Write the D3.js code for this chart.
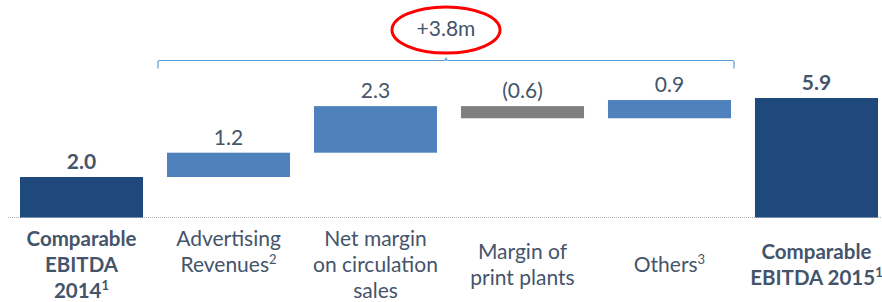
<!DOCTYPE html>
<html lang="en">
<head>
<meta charset="utf-8">
<title>EBITDA bridge</title>
<script src="https://cdn.jsdelivr.net/npm/d3@7"></script>
<style>
  body { margin: 0; background: #fff; }
  text { font-family: Lato, "Open Sans", sans-serif; }
</style>
</head>
<body>
<script>
// data
var categories = ["c2014", "adv", "circ", "print", "others", "c2015"];
var values = [2.0, 1.2, 2.3, -0.6, 0.9, 5.9];
var kinds = ["total", "delta", "delta", "delta", "delta", "total"];
var valueLabels = ["2.0", "1.2", "2.3", "(0.6)", "0.9", "5.9"];
// label lines: [text, superscript]
var catLabels = [
  [["Comparable", ""], ["EBITDA", ""], ["2014", "1"]],
  [["Advertising", ""], ["Revenues", "2"], ["", ""]],
  [["Net margin", ""], ["on circulation", ""], ["sales", ""]],
  [["Margin of", ""], ["print plants", ""]],
  [["Others", "3"]],
  [["Comparable", ""], ["EBITDA 2015", "1"]]
];
var totalChange = "+3.8m";

var width = 882, height = 302;
var baseY = 217.5;
var textCol = "#44546a";
var colors = { total: "#1f497d", up: "#4f81bd", down: "#7f7f7f" };

var svg = d3.select("body").append("svg")
    .attr("width", width)
    .attr("height", height);

var x = d3.scaleBand()
    .domain(categories)
    .range([20, 878])
    .paddingInner(0.163)
    .paddingOuter(0);

var y = d3.scaleLinear()
    .domain([0, 7])
    .range([baseY, baseY - 141.75]);

// waterfall start/end
var running = 0;
var bars = categories.map(function(c, i) {
    var s, e;
    if (kinds[i] == "total") { s = 0; e = values[i]; running = values[i]; }
    else { s = running; e = running + values[i]; running = e; }
    return { cat: c, start: s, end: e, v: values[i], kind: kinds[i], label: valueLabels[i], i: i };
});

// baseline
svg.append("line")
    .attr("x1", 8).attr("x2", width)
    .attr("y1", y(0)).attr("y2", y(0))
    .attr("stroke", "#b0b0b0")
    .attr("stroke-width", 1)
    .attr("stroke-dasharray", "1,1");

svg.selectAll("rect.bar")
    .data(bars)
    .enter()
    .append("rect")
    .attr("class", "bar")
    .attr("x", function(d) { return x(d.cat); })
    .attr("width", x.bandwidth())
    .attr("y", function(d) { return y(Math.max(d.start, d.end)); })
    .attr("height", function(d) { return Math.abs(y(d.start) - y(d.end)); })
    .attr("fill", function(d) {
        if (d.kind == "total") return colors.total;
        return d.v < 0 ? colors.down : colors.up;
    });

svg.selectAll("text.val")
    .data(bars)
    .enter()
    .append("text")
    .attr("class", "val")
    .attr("x", function(d) { return x(d.cat) + x.bandwidth() / 2; })
    .attr("y", function(d) { return y(Math.max(d.start, d.end)) - 8; })
    .attr("text-anchor", "middle")
    .attr("font-size", "21px")
    .attr("font-weight", function(d) { return d.kind == "total" ? "bold" : "normal"; })
    .attr("fill", textCol)
    .text(function(d) { return d.label; });

// category labels
var lineH = 26, midY = 272;
catLabels.forEach(function(lines, i) {
    var cx = x(categories[i]) + x.bandwidth() / 2;
    var y0 = midY - (lines.length - 1) * lineH / 2;
    var bold = kinds[i] == "total";
    var t = svg.append("text")
        .attr("text-anchor", "middle")
        .attr("font-size", bold ? "20.5px" : "21px")
        .attr("font-weight", bold ? "bold" : "normal")
        .attr("fill", textCol);
    lines.forEach(function(ln, j) {
        var row = t.append("tspan").attr("x", cx).attr("y", y0 + j * lineH);
        row.append("tspan").text(ln[0]);
        if (ln[1]) {
            row.append("tspan")
                .attr("font-size", "13px")
                .attr("dy", -8)
                .text(ln[1]);
        }
    });
});

// bracket over the deltas
var bx1 = x(categories[1]) - 9, bx2 = x(categories[4]) + x.bandwidth() + 3;
var by = 60.5, bmid = (bx1 + bx2) / 2;
svg.append("path")
    .attr("d", "M" + bx1 + "," + (by + 8) + " L" + bx1 + "," + (by + 2) +
        " Q" + bx1 + "," + by + " " + (bx1 + 2) + "," + by +
        " L" + (bmid - 2) + "," + by + " Q" + bmid + "," + by + " " + bmid + "," + (by - 3) +
        " Q" + bmid + "," + by + " " + (bmid + 2) + "," + by +
        " L" + (bx2 - 2) + "," + by + " Q" + bx2 + "," + by + " " + bx2 + "," + (by + 2) +
        " L" + bx2 + "," + (by + 8))
    .attr("fill", "none")
    .attr("stroke", "#5b9bd5")
    .attr("stroke-width", 1.2);

svg.append("ellipse")
    .attr("cx", bmid).attr("cy", 30)
    .attr("rx", 54).attr("ry", 23)
    .attr("fill", "none")
    .attr("stroke", "#ff0000")
    .attr("stroke-width", 3);

svg.append("text")
    .attr("x", bmid).attr("y", 36)
    .attr("text-anchor", "middle")
    .attr("font-size", "21px")
    .attr("fill", textCol)
    .text(totalChange);
</script>
</body>
</html>
